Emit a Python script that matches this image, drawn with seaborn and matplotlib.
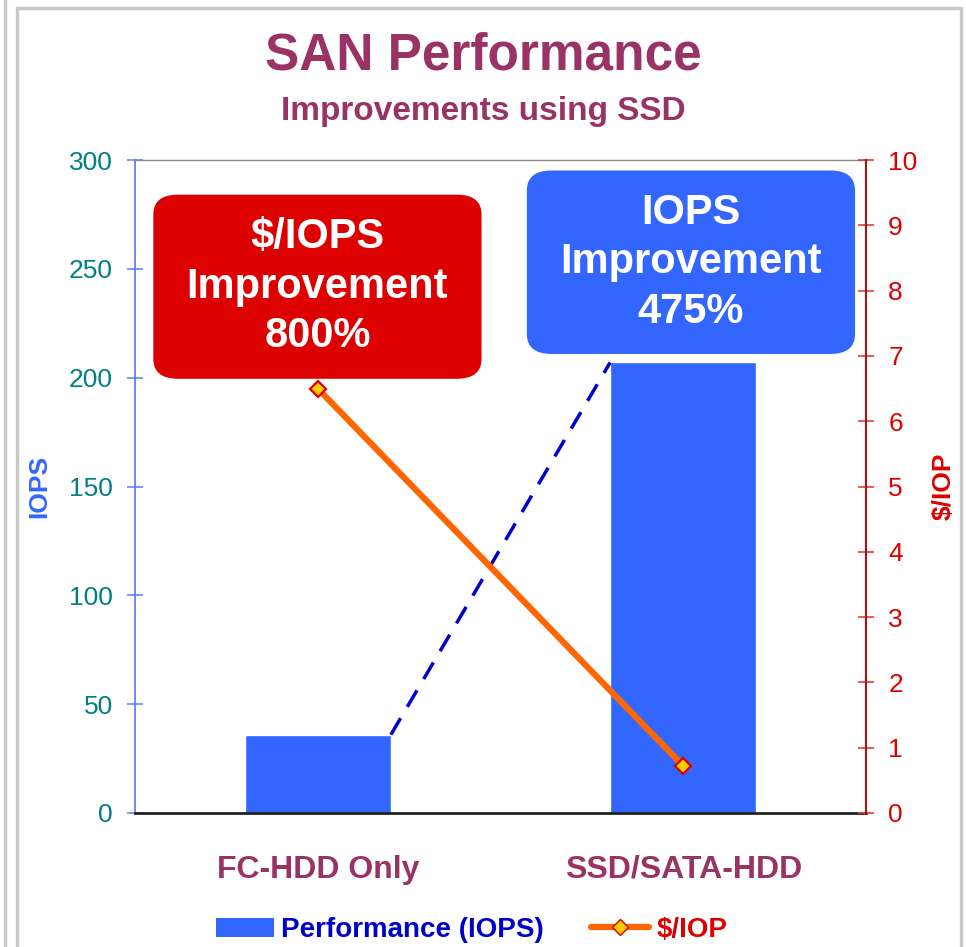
import numpy as np
import pandas as pd
from matplotlib import pyplot as plt
from matplotlib.patches import FancyBboxPatch, Patch, Rectangle
from matplotlib.lines import Line2D
import seaborn as sns

# data
categories = ["FC-HDD Only", "SSD/SATA-HDD"]
iops = [36, 207]
cost_per_iop = [6.5, 0.72]

iops_ticks = [0, 50, 100, 150, 200, 250, 300]
cost_ticks = list(range(0, 11))

TITLE = "#993366"
BAR = "#3366FF"
RED = "#DD0000"
ORANGE = "#FF6600"

sns.set_style("white")
plt.rcParams["font.family"] = ["Liberation Sans", "DejaVu Sans"]

df = pd.DataFrame({"config": categories, "iops": iops, "cost": cost_per_iop})

fig = plt.figure(figsize=(9.66, 9.47), dpi=100)
ax = fig.add_axes([0.1398, 0.1415, 0.7567, 0.6895])

bar_w = 0.4
sns.barplot(data=df, x="config", y="iops", color=BAR, width=bar_w,
            saturation=1, ax=ax, zorder=2)

# dashed connector from top of bar 1 to top of bar 2
ax.plot([0 + bar_w / 2, 1 - bar_w / 2], [iops[0], iops[1]], color="#0000CC",
        lw=2.5, dashes=(5.5, 3.8), zorder=3)

ax.set_xlim(-0.5, 1.5)
ax.set_ylim(0, 300)
ax.set_yticks(iops_ticks)
ax.set_xlabel("")
ax.set_ylabel("IOPS", color=BAR, fontsize=19, fontweight="bold")
ax.yaxis.set_label_coords(-0.115, 0.5)
ax.tick_params(axis="y", colors="#6688FF", labelcolor="#008080", labelsize=19,
               direction="inout", length=12, width=1.2, pad=10)
ax.set_xticks(np.arange(len(categories)))
ax.set_xticklabels(categories, color=TITLE, fontsize=23, fontweight="bold")
ax.tick_params(axis="x", length=0, pad=30)
ax.set_xticks([-0.5, 0.5, 1.5], minor=True)
ax.tick_params(axis="x", which="minor", direction="inout", length=15,
               width=1.5, color="#555555")

for side in ["left", "right", "top", "bottom"]:
    ax.spines[side].set_visible(True)
ax.spines["left"].set_color("#5577EE")
ax.spines["left"].set_linewidth(1.2)
ax.spines["top"].set_color("#888888")
ax.spines["top"].set_linewidth(1.0)
ax.spines["bottom"].set_color("#222222")
ax.spines["bottom"].set_linewidth(2)
ax.spines["right"].set_visible(False)

ax2 = ax.twinx()
sns.lineplot(x=np.arange(len(categories)), y=cost_per_iop, ax=ax2, color=ORANGE,
             lw=4.5, marker="D", markersize=8, markerfacecolor="#FFCC00",
             markeredgecolor=RED, markeredgewidth=1.6, zorder=5)
ax2.set_ylim(0, 10)
ax2.set_yticks(cost_ticks)
ax2.set_ylabel("$/IOP", color=RED, fontsize=19, fontweight="bold", rotation=90)
ax2.yaxis.set_label_coords(1.09, 0.5)
ax2.tick_params(axis="y", colors="#E04040", labelcolor=RED, labelsize=19,
                direction="inout", length=12, width=1.2, pad=10)
for side in ["left", "top", "bottom"]:
    ax2.spines[side].set_visible(False)
ax2.spines["right"].set_color("#AA1111")
ax2.spines["right"].set_linewidth(1.5)
ax.set_zorder(ax2.get_zorder() - 1)
ax2.patch.set_visible(False)
ax.patch.set_visible(True)

# callout boxes (axes fraction)
aspect = 731 / 653
boxes = [
    ((0.025, 0.665), 0.449, 0.282, RED, "$/IOPS\nImprovement\n800%"),
    ((0.536, 0.703), 0.449, 0.281, BAR, "IOPS\nImprovement\n475%"),
]
for (x0, y0), w, h, fc, txt in boxes:
    r = 0.034
    p = FancyBboxPatch((x0 + r, y0 + r / aspect), w - 2 * r, h - 2 * r / aspect,
                       boxstyle=f"round,pad={r},rounding_size={r}",
                       mutation_aspect=1 / aspect, transform=ax2.transAxes,
                       fc=fc, ec="none", zorder=6)
    ax2.add_patch(p)
    ax2.text(x0 + w / 2, y0 + h / 2, txt, transform=ax2.transAxes,
             ha="center", va="center", color="white", fontsize=30,
             fontweight="bold", linespacing=1.3, zorder=7)

fig.text(0.5, 0.941, "SAN Performance", ha="center", va="center",
         color=TITLE, fontsize=37, fontweight="bold")
fig.text(0.5, 0.882, "Improvements using SSD", ha="center", va="center",
         color=TITLE, fontsize=24, fontweight="bold")

handles = [Patch(fc=BAR, ec="none"),
           Line2D([0], [0], color=ORANGE, lw=4.5, marker="D", markersize=8,
                  markerfacecolor="#FFCC00", markeredgecolor=RED)]
leg = fig.legend(handles, ["Performance (IOPS)", "$/IOP"], loc="center",
                 bbox_to_anchor=(0.488, 0.018), ncol=2, frameon=False,
                 prop={"size": 20, "weight": "bold"}, handlelength=2.1,
                 handleheight=0.7, handletextpad=0.25, columnspacing=1.7)
for t, c in zip(leg.get_texts(), ["#0000CC", RED]):
    t.set_color(c)

# outer chart frame
fig.patches.append(Rectangle((17 / 966, -0.1), (961 - 17) / 966, 0.1 + (947 - 8) / 947,
                             transform=fig.transFigure, fill=False,
                             ec="#C8C8C8", lw=2.5))
fig.lines.append(Line2D([5 / 966, 5 / 966], [0, 1], transform=fig.transFigure,
                        color="#C8C8C8", lw=2.5))

fig.savefig("out.png", dpi=100)
